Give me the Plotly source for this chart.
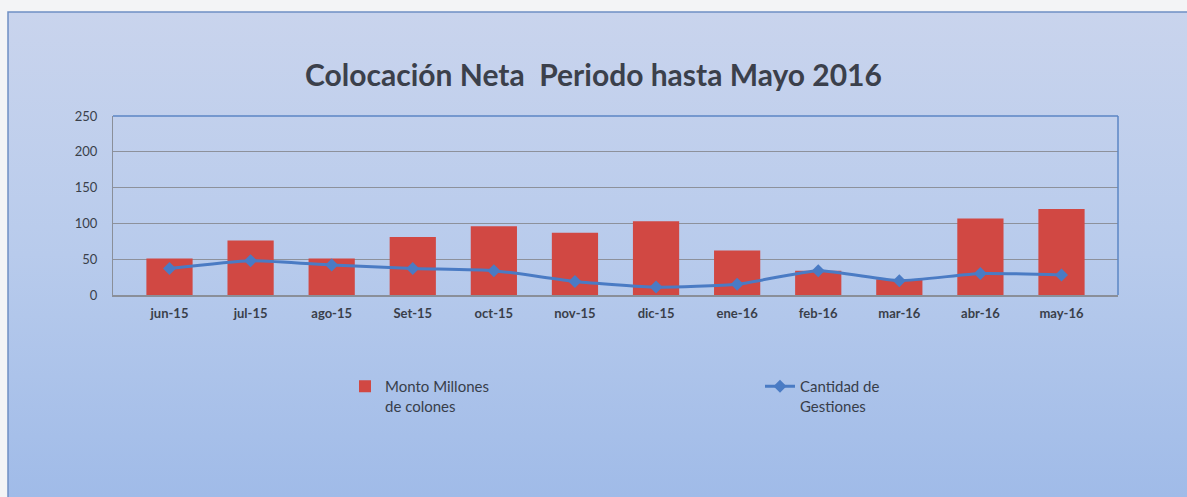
import plotly.graph_objects as go

categories = ["jun-15", "jul-15", "ago-15", "Set-15", "oct-15", "nov-15",
              "dic-15", "ene-16", "feb-16", "mar-16", "abr-16", "may-16"]
monto = [51, 76, 51, 81, 96, 87, 103, 62, 34, 22, 107, 120]
gestiones = [37, 48, 42, 37, 34, 19, 11, 15, 34, 20, 30, 28]
y_ticks = [0, 50, 100, 150, 200, 250]

W, H = 1187, 497
L, R, T, B = 113, 69, 116, 202
pw = W - L - R
ph = H - T - B

def px_x(p):
    return (p - L) / pw

def px_y(p):
    return (H - B - p) / ph

svg = ("data:image/svg+xml;utf8,"
       "<svg xmlns='http://www.w3.org/2000/svg' width='100' height='100' preserveAspectRatio='none'>"
       "<defs><linearGradient id='g' x1='0' y1='0' x2='0' y2='1'>"
       "<stop offset='0' stop-color='%23c9d4ed'/>"
       "<stop offset='0.5' stop-color='%23b8cbec'/>"
       "<stop offset='1' stop-color='%23a0bbe8'/>"
       "</linearGradient></defs>"
       "<rect width='100' height='100' fill='url(%23g)'/></svg>")

fig = go.Figure()
fig.add_trace(go.Bar(
    x=categories, y=monto, name="Monto Millones<br>de colones",
    marker=dict(color="#d14843", line=dict(width=0)),
))
fig.add_trace(go.Scatter(
    x=categories, y=gestiones, name="Cantidad de<br>Gestiones",
    mode="lines+markers",
    line=dict(color="#4a7bc4", width=3, shape="spline", smoothing=0.5),
    marker=dict(symbol="diamond", size=10, color="#4a7bc4"),
))

fig.update_layout(
    width=W, height=H,
    margin=dict(l=L, r=R, t=T, b=B),
    paper_bgcolor="#f3f4f6",
    plot_bgcolor="rgba(255,255,255,0.10)",
    bargap=0.43,
    title=dict(text="<b>Colocación Neta  Periodo hasta Mayo 2016</b>",
               x=0.5, xanchor="center", y=1 - 75 / H, yanchor="middle",
               font=dict(family="Lato", size=30, color="#3b404b")),
    font=dict(family="Lato", color="#3a3f4a"),
    showlegend=True,
    legend=dict(orientation="h", x=px_x(345), xanchor="left",
                y=px_y(370), yanchor="top", valign="top",
                entrywidth=370, traceorder="normal",
                font=dict(family="Lato", size=15, color="#383e4a"),
                bgcolor="rgba(0,0,0,0)"),
    xaxis=dict(showgrid=False, showline=True, linecolor="#8a8f99", linewidth=1.5,
               mirror=False, ticks="", tickfont=dict(size=13, color="#3a3f4a", family="Lato"),
               ticklabelstandoff=6),
    yaxis=dict(range=[0, 250], tickvals=y_ticks, showgrid=True,
               gridcolor="#8d919b", gridwidth=1, zeroline=False,
               showline=True, linecolor="#8a8f99", linewidth=1,
               ticks="", tickfont=dict(size=13, color="#3a3f4a", family="Lato"),
               ticklabelstandoff=12),
    images=[dict(source=svg, xref="paper", yref="paper",
                 x=px_x(8), y=px_y(12), sizex=(W - 8) / pw, sizey=(H - 12) / ph,
                 sizing="stretch", xanchor="left", yanchor="top", layer="below")],
    shapes=[
        dict(type="rect", xref="paper", yref="paper",
             x0=px_x(8), x1=px_x(W + 5), y0=px_y(H + 5), y1=px_y(12),
             line=dict(color="#6f8fc4", width=1.5), fillcolor="rgba(0,0,0,0)", layer="below"),
        dict(type="line", xref="paper", yref="paper", x0=0, x1=1, y0=1, y1=1,
             line=dict(color="#5b86c5", width=1.5)),
        dict(type="line", xref="paper", yref="paper", x0=1, x1=1, y0=0, y1=1,
             line=dict(color="#5b86c5", width=1.5)),
    ],
)

fig.update_xaxes(tickprefix="<b>", ticksuffix="</b>")
fig.update_yaxes(tickprefix="<b>", ticksuffix="</b>")

fig.write_html("out.html", config={"displayModeBar": False},
               post_script="document.body.style.margin='0px';document.body.style.overflow='hidden';")
